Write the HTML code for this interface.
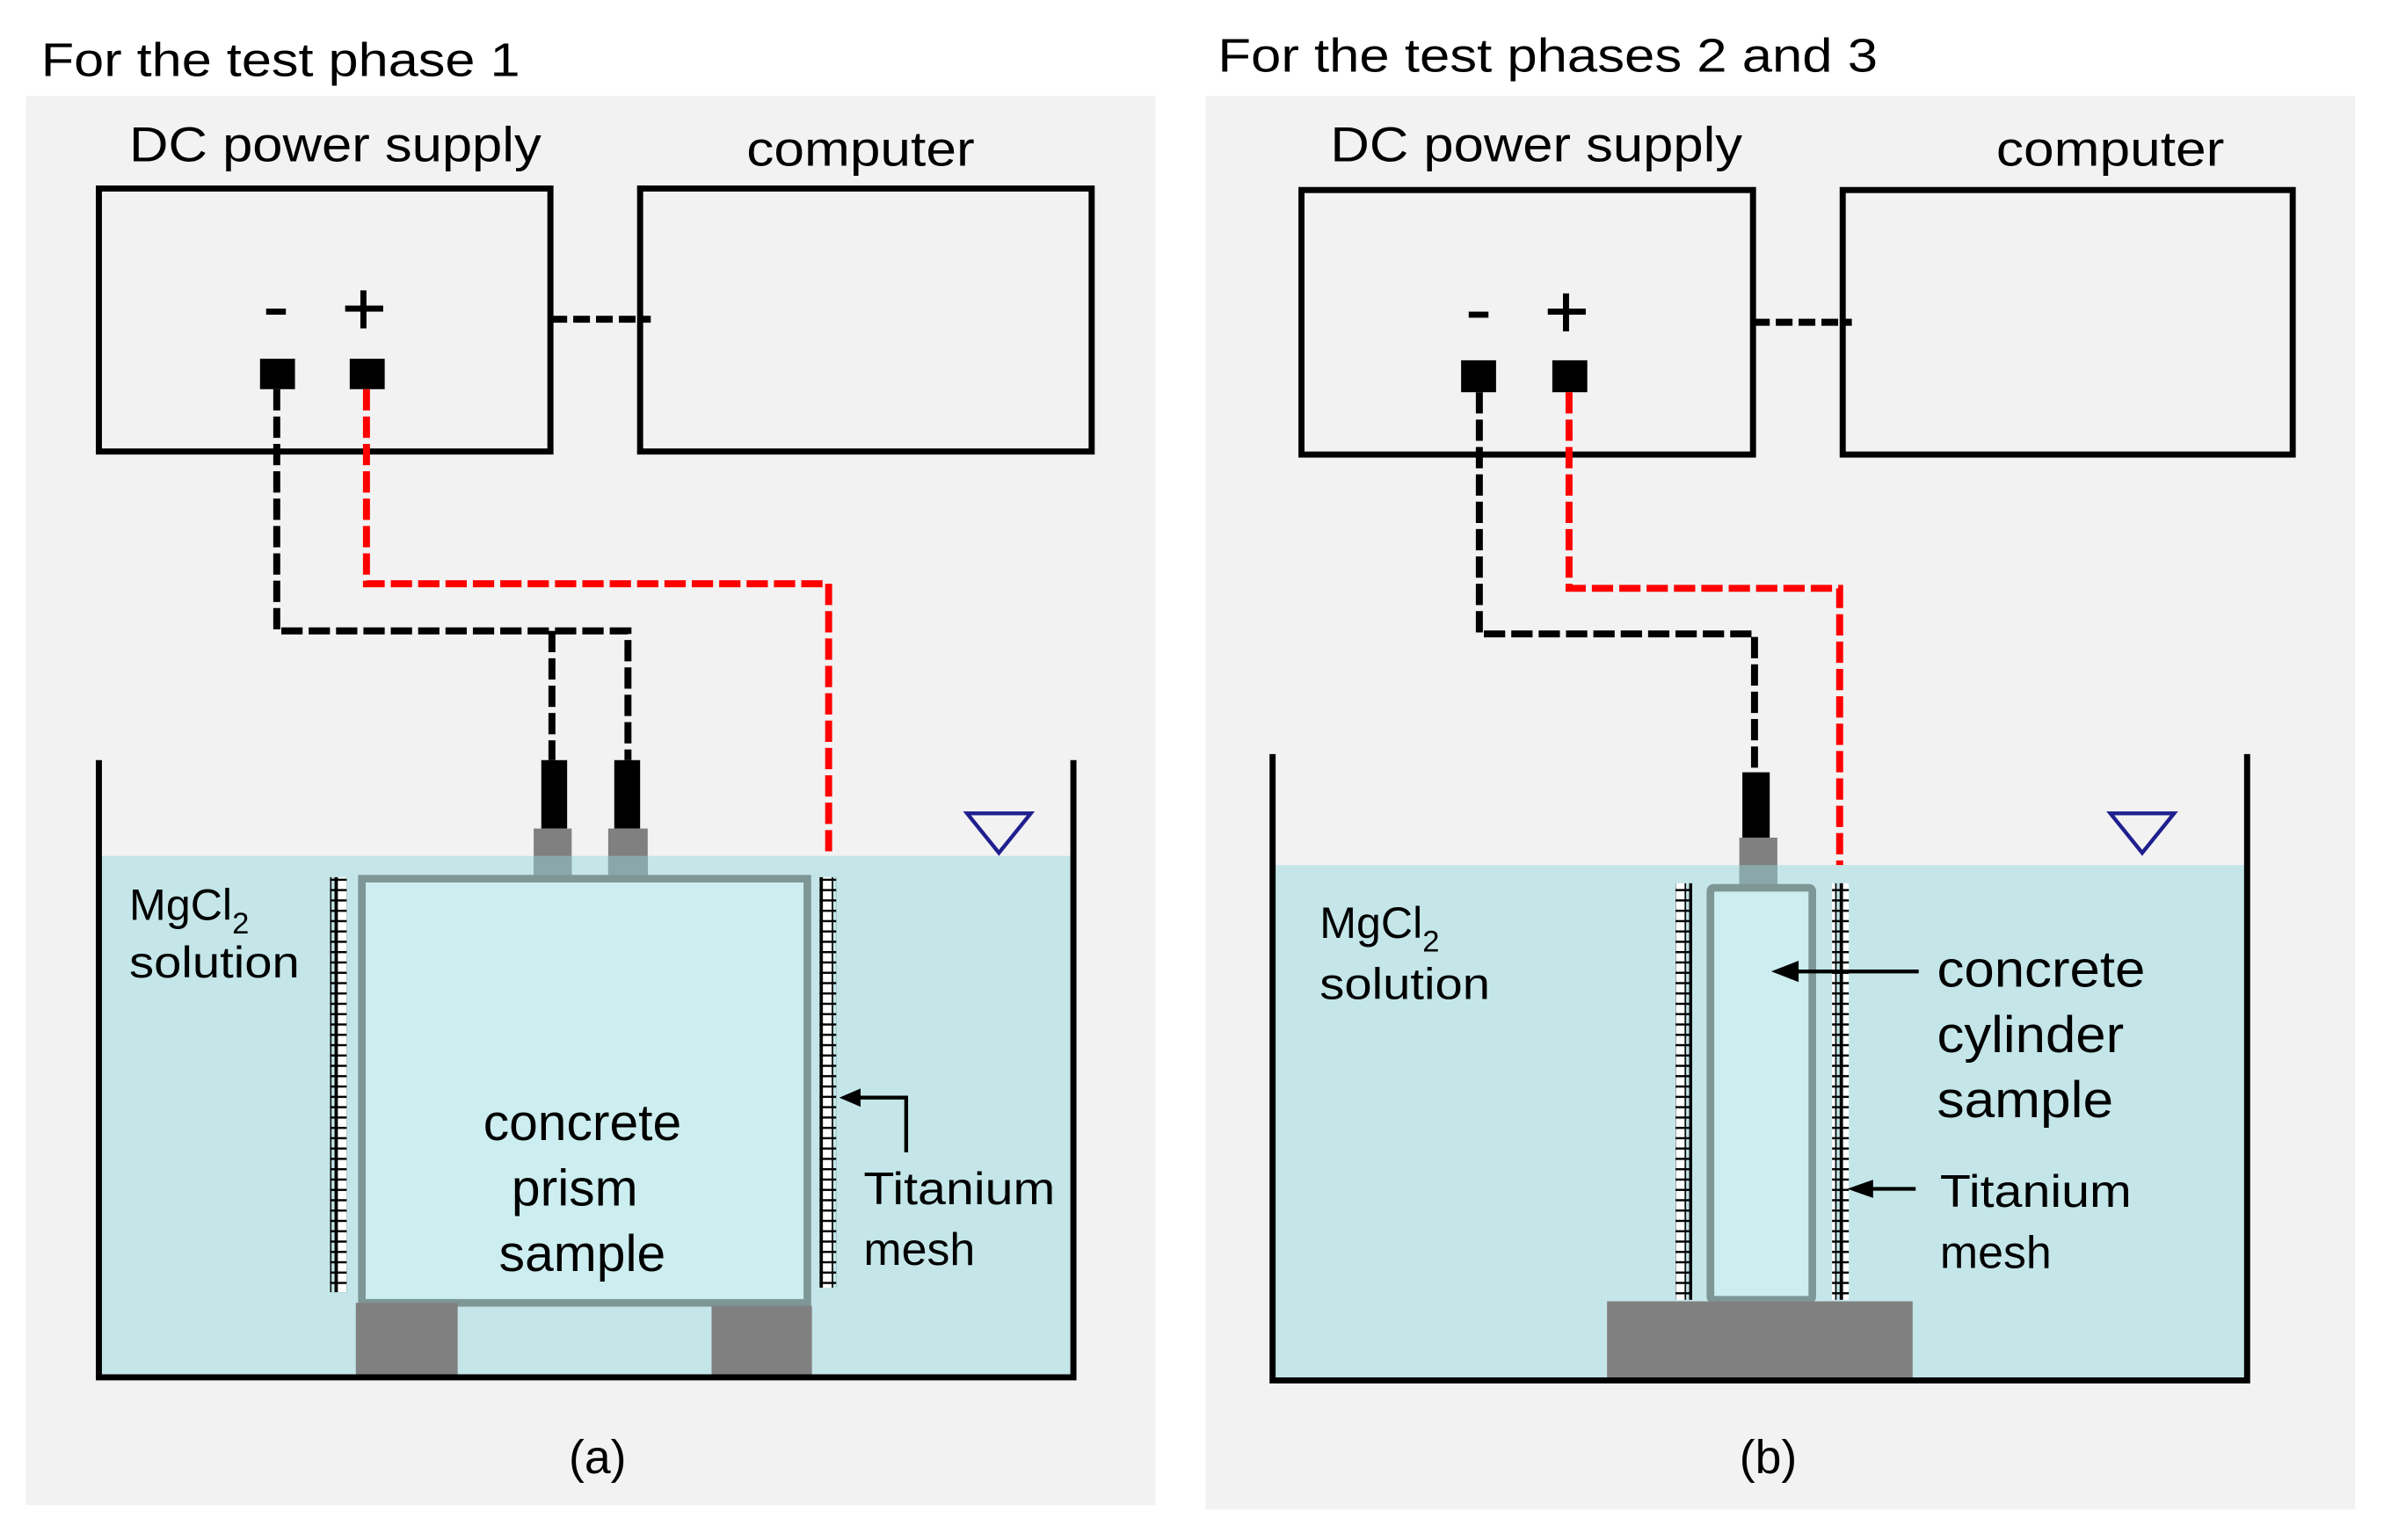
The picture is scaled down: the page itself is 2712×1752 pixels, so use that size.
<!DOCTYPE html>
<html><head><meta charset="utf-8"><style>html,body{margin:0;padding:0;background:#fff}svg{display:block}text{font-family:"Liberation Sans",Arial,sans-serif;fill:#000}</style></head>
<body>
<svg width="2712" height="1752" viewBox="0 0 1568 1013" xmlns="http://www.w3.org/2000/svg">
<defs>
<pattern id="mesh" x="0" y="0" width="11" height="6.8" patternUnits="userSpaceOnUse">
<rect x="0" y="0" width="9" height="6.8" fill="#000"/>
<rect x="9" y="0" width="2" height="1.4" fill="#000"/>
<rect x="2.2" y="1.4" width="5.8" height="5.4" fill="#fff"/>
</pattern>
</defs>
<rect width="1568" height="1013" fill="#fff"/>
<!-- LEFT PANEL -->
<rect x="17" y="63" width="743" height="927" fill="#f2f2f2"/>
<text x="27" y="50" font-size="31" textLength="315" lengthAdjust="spacingAndGlyphs">For the test phase 1</text>
<text x="85" y="106" font-size="32" textLength="271" lengthAdjust="spacingAndGlyphs">DC power supply</text>
<text x="491" y="109" font-size="32" textLength="150" lengthAdjust="spacingAndGlyphs">computer</text>
<rect x="65" y="124" width="297" height="173" fill="none" stroke="#000" stroke-width="4"/>
<rect x="421" y="124" width="297" height="173" fill="none" stroke="#000" stroke-width="4"/>
<line x1="362" y1="210" x2="428" y2="210" stroke="#000" stroke-width="4.6" stroke-dasharray="11,4"/>
<rect x="175" y="203" width="13" height="4" fill="#000"/>
<rect x="227" y="201" width="25" height="4" fill="#000"/>
<rect x="237" y="191" width="4" height="25" fill="#000"/>
<rect x="171" y="236" width="23" height="20" fill="#000"/>
<rect x="230" y="236" width="23" height="20" fill="#000"/>
<polyline points="182,256 182,415 413,415 413,500" fill="none" stroke="#000" stroke-width="4.6" stroke-dasharray="14,4"/>
<polyline points="363,415 363,500" fill="none" stroke="#000" stroke-width="4.6" stroke-dasharray="14,4"/>
<polyline points="241,256 241,384 545,384 545,578" fill="none" stroke="#ff0000" stroke-width="4.6" stroke-dasharray="14,4"/>
<rect x="65" y="563" width="641" height="343" fill="#c4e6e9"/>
<rect x="356" y="500" width="17" height="45" fill="#000"/>
<rect x="404" y="500" width="17" height="45" fill="#000"/>
<rect x="351" y="545" width="25" height="32" fill="#808080"/>
<rect x="400" y="545" width="26" height="32" fill="#808080"/>
<rect x="351" y="563" width="25" height="14" fill="#8aa8aa"/>
<rect x="400" y="563" width="26" height="14" fill="#8aa8aa"/>
<rect x="238" y="578" width="293" height="279" fill="#cdeef0" stroke="#7f9697" stroke-width="5"/>
<rect x="234" y="857" width="67" height="49" fill="#808080"/>
<rect x="468" y="859" width="66" height="47" fill="#808080"/>
<rect x="217" y="577" width="11" height="273" fill="url(#mesh)"/>
<rect x="539" y="577" width="11" height="270" fill="url(#mesh)"/>
<polyline points="65,500 65,906 706,906 706,500" fill="none" stroke="#000" stroke-width="4"/>
<polyline points="562,722 596,722 596,758" fill="none" stroke="#000" stroke-width="2.5"/>
<polygon points="552,722 566,716 566,728" fill="#000"/>
<polygon points="636,535 678,535 657,561" fill="none" stroke="#1f1f8f" stroke-width="2.5"/>
<text x="85" y="605" font-size="29">MgCl<tspan font-size="20" dy="9">2</tspan></text>
<text x="85" y="643" font-size="29" textLength="112" lengthAdjust="spacingAndGlyphs">solution</text>
<text x="383" y="750" font-size="34" text-anchor="middle">concrete</text>
<text x="378" y="793" font-size="34" text-anchor="middle">prism</text>
<text x="383" y="836" font-size="34" text-anchor="middle">sample</text>
<text x="568" y="792" font-size="30" textLength="126" lengthAdjust="spacingAndGlyphs">Titanium</text>
<text x="568" y="832" font-size="30">mesh</text>
<text x="393" y="969" font-size="31" text-anchor="middle">(a)</text>

<!-- RIGHT PANEL -->
<rect x="793" y="63" width="756" height="930" fill="#f2f2f2"/>
<text x="801" y="47" font-size="31" textLength="434" lengthAdjust="spacingAndGlyphs">For the test phases 2 and 3</text>
<text x="875" y="106" font-size="32" textLength="271" lengthAdjust="spacingAndGlyphs">DC power supply</text>
<text x="1313" y="109" font-size="32" textLength="150" lengthAdjust="spacingAndGlyphs">computer</text>
<rect x="856" y="125" width="297" height="174" fill="none" stroke="#000" stroke-width="4"/>
<rect x="1212" y="125" width="296" height="174" fill="none" stroke="#000" stroke-width="4"/>
<line x1="1153" y1="212" x2="1218" y2="212" stroke="#000" stroke-width="4.6" stroke-dasharray="11,4"/>
<rect x="966" y="205" width="13" height="4" fill="#000"/>
<rect x="1018" y="203" width="25" height="4" fill="#000"/>
<rect x="1028" y="193" width="4" height="25" fill="#000"/>
<rect x="961" y="237" width="23" height="21" fill="#000"/>
<rect x="1021" y="237" width="23" height="21" fill="#000"/>
<polyline points="973,258 973,417 1154,417 1154,507" fill="none" stroke="#000" stroke-width="4.6" stroke-dasharray="14,4"/>
<polyline points="1032,258 1032,387 1210,387 1210,581" fill="none" stroke="#ff0000" stroke-width="4.6" stroke-dasharray="14,4"/>
<rect x="837" y="569" width="641" height="339" fill="#c4e6e9"/>
<rect x="1146" y="508" width="18" height="43" fill="#000"/>
<rect x="1144" y="551" width="25" height="31" fill="#808080"/>
<rect x="1144" y="569" width="25" height="13" fill="#8aa8aa"/>
<rect x="1125" y="584" width="67" height="271" rx="2" fill="#cdeef0" stroke="#7f9697" stroke-width="5"/>
<rect x="1057" y="856" width="201" height="52" fill="#808080"/>
<rect x="1102" y="581" width="11" height="274" fill="url(#mesh)"/>
<rect x="1205" y="581" width="11" height="274" fill="url(#mesh)"/>
<polyline points="837,496 837,908 1478,908 1478,496" fill="none" stroke="#000" stroke-width="4"/>
<line x1="1180" y1="639" x2="1262" y2="639" stroke="#000" stroke-width="2.5"/>
<polygon points="1165,639 1183,632 1183,646" fill="#000"/>
<line x1="1228" y1="782" x2="1260" y2="782" stroke="#000" stroke-width="2.5"/>
<polygon points="1215,782 1232,776 1232,788" fill="#000"/>
<polygon points="1388,535 1430,535 1409,561" fill="none" stroke="#1f1f8f" stroke-width="2.5"/>
<text x="868" y="617" font-size="29">MgCl<tspan font-size="20" dy="9">2</tspan></text>
<text x="868" y="657" font-size="29" textLength="112" lengthAdjust="spacingAndGlyphs">solution</text>
<text x="1274" y="649" font-size="34" textLength="137" lengthAdjust="spacingAndGlyphs">concrete</text>
<text x="1274" y="692" font-size="34" textLength="123" lengthAdjust="spacingAndGlyphs">cylinder</text>
<text x="1274" y="735" font-size="34" textLength="116" lengthAdjust="spacingAndGlyphs">sample</text>
<text x="1276" y="794" font-size="30" textLength="126" lengthAdjust="spacingAndGlyphs">Titanium</text>
<text x="1276" y="834" font-size="30">mesh</text>
<text x="1163" y="969" font-size="31" text-anchor="middle">(b)</text>
</svg>
</body></html>
